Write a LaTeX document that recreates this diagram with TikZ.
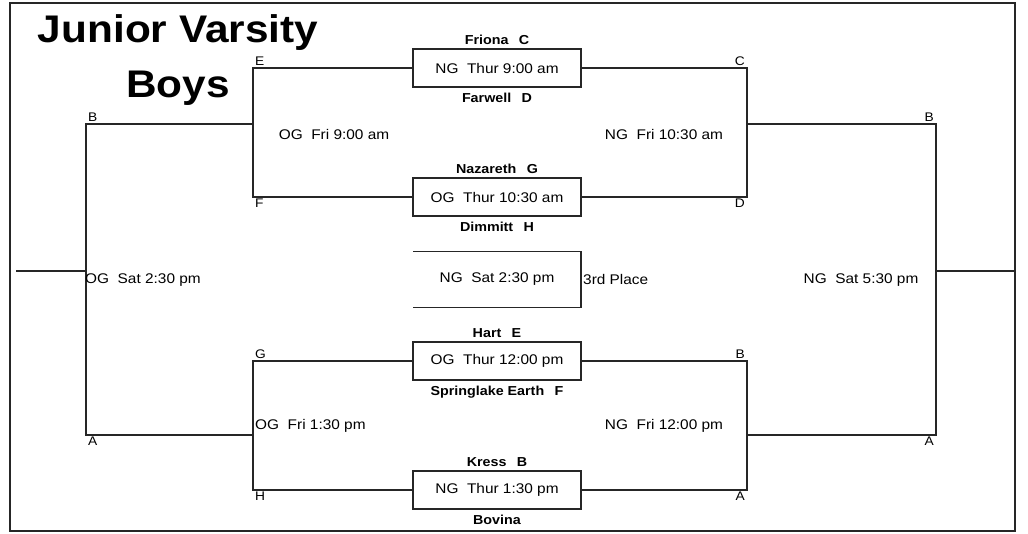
\documentclass[tikz,border=0pt]{standalone}
\usepackage{fontspec}
\setmainfont{Liberation Sans}[FakeStretch=1.1]
\usetikzlibrary{positioning}
\begin{document}
\begin{tikzpicture}[x=1pt,y=-1pt]
        \tikzstyle{game}=[rectangle,draw=black!85,line width=1.2pt,minimum width=168pt,minimum height=38pt,inner sep=0pt,font=\fontsize{14}{16}\selectfont]
        \tikzstyle{team}=[inner sep=1pt,font=\bfseries\fontsize{13}{15}\selectfont]
        \tikzstyle{slot}=[inner sep=2pt,font=\fontsize{12.5}{14}\selectfont]
        \tikzstyle{round}=[inner sep=0pt,font=\fontsize{14}{16}\selectfont]
        \tikzstyle{wire}=[draw=black!85,line width=1.2pt]
        \useasboundingbox (0,0) rectangle (1028,533);
        \draw[black!85,line width=2.2pt] (10,3) rectangle (1015,531);

        % title
        \node[anchor=base,inner sep=0pt,font=\bfseries\fontsize{38.5}{40}\selectfont] (title1) at (178,42) {Junior Varsity};
        \node[anchor=base,inner sep=0pt,font=\bfseries\fontsize{38.5}{40}\selectfont] (title2) at (178,97) {Boys};

        % first round
        \node [game] (g1) at (497,68) {NG~~Thur 9:00 am};
        \node [game] (g2) at (497,197) {OG~~Thur 10:30 am};
        \node [game] (g3) at (497,361) {OG~~Thur 12:00 pm};
        \node [game] (g4) at (497,490) {NG~~Thur 1:30 pm};
        \node [game,draw=none,outer sep=0pt,minimum height=56pt] (third) at (497,279.5) {NG~~Sat 2:30 pm};
        \path[wire] (third.north west) -- (third.north east) -- (third.south east) -- (third.south west);
        \node [round,anchor=west,inner sep=2pt] (thirdlbl) at (third.east) {3rd Place};

        \node [team,above=3pt of g1] (t1) {Friona\hspace{0.8em}C};
        \node [team,below=4pt of g1] (t2) {Farwell\hspace{0.8em}D};
        \node [team,above=3pt of g2] (t3) {Nazareth\hspace{0.8em}G};
        \node [team,below=4pt of g2] (t4) {Dimmitt\hspace{0.8em}H};
        \node [team,above=3pt of g3] (t5) {Hart\hspace{0.8em}E};
        \node [team,below=4pt of g3] (t6) {Springlake Earth\hspace{0.8em}F};
        \node [team,above=3pt of g4] (t7) {Kress\hspace{0.8em}B};
        \node [team,below=4pt of g4] (t8) {Bovina};

        % bracket corners
        \coordinate (qE) at (253,68);  \coordinate (qF) at (253,197);  \coordinate (qEF) at (253,124);
        \coordinate (qC) at (747,68);  \coordinate (qD) at (747,197);  \coordinate (qCD) at (747,124);
        \coordinate (qG) at (253,361); \coordinate (qH) at (253,490); \coordinate (qGH) at (253,435);
        \coordinate (qB) at (747,361); \coordinate (qA) at (747,490); \coordinate (qBA) at (747,435);
        \coordinate (sB) at (86,124);  \coordinate (sA) at (86,435);  \coordinate (sM) at (86,271);
        \coordinate (sB2) at (936,124); \coordinate (sA2) at (936,435); \coordinate (sM2) at (936,271);
        \coordinate (finL) at (16,271); \coordinate (finR) at (1015,271);

        \path[wire] (g1.west) -- (qE) -- (qF) -- (g2.west);
        \path[wire] (g1.east) -- (qC) -- (qD) -- (g2.east);
        \path[wire] (g3.west) -- (qG) -- (qH) -- (g4.west);
        \path[wire] (g3.east) -- (qB) -- (qA) -- (g4.east);
        \path[wire] (qEF) -- (sB) -- (sA) -- (qGH);
        \path[wire] (qCD) -- (sB2) -- (sA2) -- (qBA);
        \path[wire] (finL) -- (sM);
        \path[wire] (sM2) -- (finR);

        % slot letters
        \node [slot,anchor=south west] (lE) at (qE) {E};
        \node [slot,anchor=north west] (lF) at (qF) {F};
        \node [slot,anchor=south east] (lC) at (qC) {C};
        \node [slot,anchor=north east] (lD) at (qD) {D};
        \node [slot,anchor=south west] (lG) at (qG) {G};
        \node [slot,anchor=north west] (lH) at (qH) {H};
        \node [slot,anchor=south east] (lB) at (qB) {B};
        \node [slot,anchor=north east] (lA) at (qA) {A};
        \node [slot,anchor=south west] (lB1) at (sB) {B};
        \node [slot,anchor=north west] (lA1) at (sA) {A};
        \node [slot,anchor=south east] (lB2) at (sB2) {B};
        \node [slot,anchor=north east] (lA2) at (sA2) {A};

        % later rounds
        \node [round] (r1) at (334,134) {OG~~Fri 9:00 am};
        \node [round] (r2) at (664,134) {NG~~Fri 10:30 am};
        \node [round,anchor=west] (r3) at (255,426) {OG~~Fri 1:30 pm};
        \node [round] (r4) at (664,426) {NG~~Fri 12:00 pm};
        \node [round,anchor=west] (r5) at (85,280) {OG~~Sat 2:30 pm};
        \node [round] (r6) at (861,280) {NG~~Sat 5:30 pm};
\end{tikzpicture}
\end{document}
